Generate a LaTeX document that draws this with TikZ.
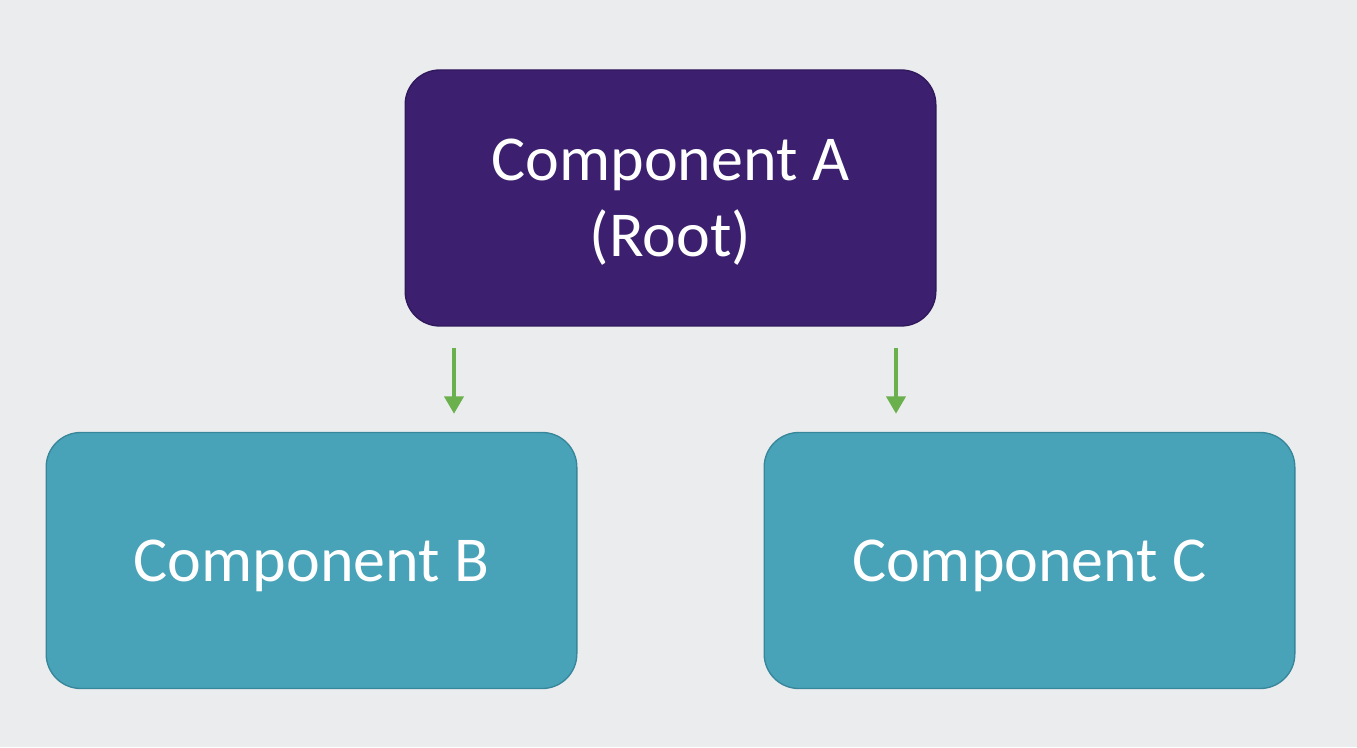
\documentclass[tikz,border=0pt]{standalone}
\usepackage{fontspec}
\setmainfont{Carlito}
\usepackage{xcolor}
\usepackage{tikz}
\usetikzlibrary{arrows.meta, positioning}
\definecolor{rootfill}{RGB}{60,31,111}
\definecolor{rootline}{RGB}{48,24,92}
\definecolor{childfill}{RGB}{72,162,184}
\definecolor{childline}{RGB}{56,134,154}
\definecolor{linkgreen}{RGB}{106,176,76}
\definecolor{canvas}{RGB}{235,236,238}

\tikzset{
  comp/.style={rounded corners=26pt, minimum width=398pt, minimum height=192pt,
    align=center, text=white, font=\fontsize{48}{57}\selectfont, line width=1pt,
    text depth=0pt},
  rootbox/.style={comp, draw=rootline, fill=rootfill},
  childbox/.style={comp, draw=childline, fill=childfill},
  link/.style={draw=linkgreen, line width=3.4pt, -{Triangle[width=14pt, length=13pt]}}
}

\begin{document}
\begin{tikzpicture}[x=0.75pt, y=0.75pt]
    \fill[canvas] (0,0) rectangle (1357,747);
    \useasboundingbox (0,0) rectangle (1357,747);

    % tree of components
    \node[rootbox] (compA) at (670.5,549) {Component A\\(Root)};
    \node[childbox] (compB) at (311.5,186.5) {Component B};
    \node[childbox] (compC) at (1029.5,186.5) {Component C};

    \draw[link] ([shift={(-216.5,-21)}]compA.south) -- ([shift={(142.5,18)}]compB.north);
    \draw[link] ([shift={(225.5,-21)}]compA.south) -- ([shift={(-133.5,18)}]compC.north);
\end{tikzpicture}
\end{document}
